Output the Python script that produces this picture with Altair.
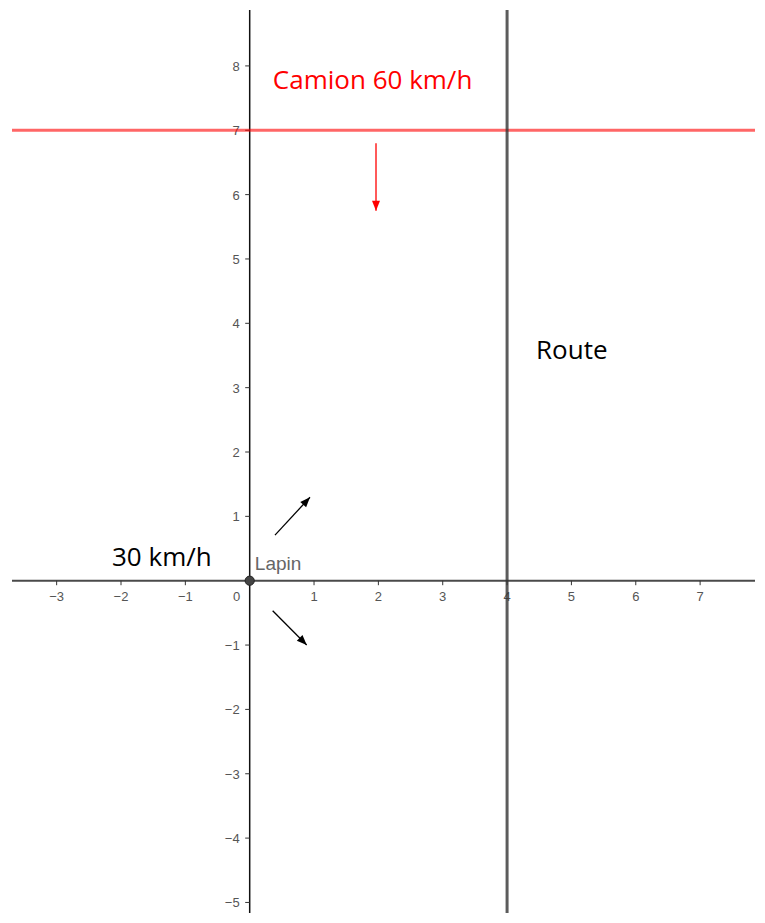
import altair as alt
import pandas as pd
import numpy as np

# ---- view window (data units) ----
X_MIN, X_MAX = -3.694, 7.853
Y_MIN, Y_MAX = -5.164, 8.869

# ---- axis ticks ----
x_tick_values = [-3, -2, -1, 1, 2, 3, 4, 5, 6, 7]
y_tick_values = [-5, -4, -3, -2, -1, 1, 2, 3, 4, 5, 6, 7, 8]

# ---- objects ----
camion_y = [7]          # truck line y = 7
route_x = [4]           # road x = 4
lapin_x = [0]
lapin_y = [0]

# arrows: start -> tip
arrow_x_start = [1.963, 0.393, 0.357]
arrow_y_start = [6.80, 0.709, -0.466]
arrow_x_end = [1.963, 0.937, 0.886]
arrow_y_end = [5.75, 1.296, -0.999]
arrow_color = ["#ff0000", "#000000", "#000000"]

# text labels
big_text = ["Camion 60 km/h", "30 km/h", "Route"]
big_text_x = [0.36, -2.14, 4.45]
big_text_y = [7.636, 0.228, 3.445]
big_text_color = ["#ff0000", "#000000", "#000000"]

lapin_label = ["Lapin"]
lapin_label_x = [0.08]
lapin_label_y = [0.166]

xs = alt.Scale(domain=[X_MIN, X_MAX], nice=False, zero=False)
ys = alt.Scale(domain=[Y_MIN, Y_MAX], nice=False, zero=False)


def minus(v):
    return str(v).replace("-", "\u2212")


xt = pd.DataFrame({"x": x_tick_values, "y": 0.0, "y2": -0.07,
                   "label": [minus(v) for v in x_tick_values]})
yt = pd.DataFrame({"y": y_tick_values, "x": -0.07, "x2": 0.0,
                   "label": [minus(v) for v in y_tick_values]})

# axes lines
x_axis = alt.Chart(pd.DataFrame({"y": [0]})).mark_rule(color="#4a4a4a", strokeWidth=2).encode(
    y=alt.Y("y:Q", scale=ys, axis=None))
y_axis = alt.Chart(pd.DataFrame({"x": [0]})).mark_rule(color="#111111", strokeWidth=1.5).encode(
    x=alt.X("x:Q", scale=xs, axis=None))

x_tick_marks = alt.Chart(xt).mark_rule(color="#333333", strokeWidth=1).encode(
    x=alt.X("x:Q", scale=xs, axis=None), y=alt.Y("y:Q", scale=ys, axis=None), y2="y2:Q")
y_tick_marks = alt.Chart(yt).mark_rule(color="#333333", strokeWidth=1).encode(
    y=alt.Y("y:Q", scale=ys, axis=None), x=alt.X("x:Q", scale=xs, axis=None), x2="x2:Q")

x_tick_labels = alt.Chart(xt).mark_text(
    font="Liberation Sans", fontSize=13, color="#555555", baseline="middle", align="center", dy=16
).encode(x=alt.X("x:Q", scale=xs, axis=None), y=alt.Y("y:Q", scale=ys, axis=None), text="label:N")

y_tick_labels = alt.Chart(yt).mark_text(
    font="Liberation Sans", fontSize=13, color="#555555", baseline="middle", align="right", dx=-10, dy=1
).encode(x=alt.X("x2:Q", scale=xs, axis=None), y=alt.Y("y:Q", scale=ys, axis=None), text="label:N")

zero_label = alt.Chart(pd.DataFrame({"x": [0], "y": [0], "label": ["0"]})).mark_text(
    font="Liberation Sans", fontSize=13, color="#555555", baseline="middle", align="center", dx=-13, dy=16
).encode(x=alt.X("x:Q", scale=xs, axis=None), y=alt.Y("y:Q", scale=ys, axis=None), text="label:N")

# truck line and road
camion = alt.Chart(pd.DataFrame({"y": camion_y})).mark_rule(
    color="#ff0000", strokeWidth=3, opacity=0.6).encode(y=alt.Y("y:Q", scale=ys, axis=None))
route = alt.Chart(pd.DataFrame({"x": route_x})).mark_rule(
    color="#333333", strokeWidth=3, opacity=0.8).encode(x=alt.X("x:Q", scale=xs, axis=None))

# arrows
ad = pd.DataFrame({"x": arrow_x_start, "y": arrow_y_start,
                   "x2": arrow_x_end, "y2": arrow_y_end, "c": arrow_color})
ad["angle"] = np.degrees(np.arctan2(ad["x2"] - ad["x"], ad["y2"] - ad["y"])) % 360

shafts = alt.Chart(ad).mark_rule(strokeWidth=1.3).encode(
    x=alt.X("x:Q", scale=xs, axis=None), y=alt.Y("y:Q", scale=ys, axis=None),
    x2="x2:Q", y2="y2:Q", color=alt.Color("c:N", scale=None))
heads = alt.Chart(ad).mark_point(
    filled=True, shape="M0,0L-0.8,2L0.8,2Z", size=100, opacity=1).encode(
    x=alt.X("x2:Q", scale=xs, axis=None), y=alt.Y("y2:Q", scale=ys, axis=None),
    angle=alt.Angle("angle:Q", scale=None), color=alt.Color("c:N", scale=None))

# Lapin point
lapin = alt.Chart(pd.DataFrame({"x": lapin_x, "y": lapin_y})).mark_point(
    filled=True, shape="circle", size=85, color="#444444", stroke="#222222", strokeWidth=1, opacity=1
).encode(x=alt.X("x:Q", scale=xs, axis=None), y=alt.Y("y:Q", scale=ys, axis=None))

lapin_text = alt.Chart(pd.DataFrame({"x": lapin_label_x, "y": lapin_label_y, "t": lapin_label})).mark_text(
    font="Liberation Sans", fontSize=19, color="#666666", align="left", baseline="alphabetic"
).encode(x=alt.X("x:Q", scale=xs, axis=None), y=alt.Y("y:Q", scale=ys, axis=None), text="t:N")

big = alt.Chart(pd.DataFrame({"x": big_text_x, "y": big_text_y, "t": big_text, "c": big_text_color})).mark_text(
    font="Open Sans", fontSize=26, align="left", baseline="alphabetic"
).encode(x=alt.X("x:Q", scale=xs, axis=None), y=alt.Y("y:Q", scale=ys, axis=None),
         text="t:N", color=alt.Color("c:N", scale=None))

chart = alt.layer(
    x_axis, y_axis, x_tick_marks, y_tick_marks, x_tick_labels, y_tick_labels, zero_label,
    camion, route, shafts, heads, lapin, lapin_text, big
).properties(
    width=743, height=903,
    autosize=alt.AutoSizeParams(type="none"),
    padding={"left": 4, "top": 2, "right": 0, "bottom": 0},
    background="white",
).configure_view(stroke=None)

chart.save("out.html", embed_options={"renderer": "svg", "actions": False})
